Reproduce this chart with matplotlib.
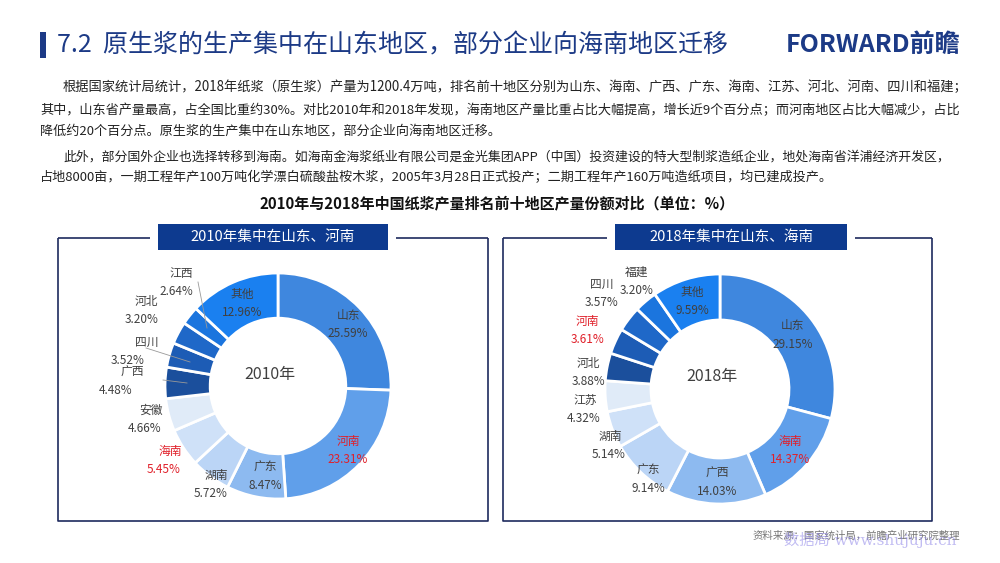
"""Pulp output share donuts, 2010 vs 2018"""

import matplotlib
matplotlib.use("Agg")
import matplotlib.pyplot as plt
from matplotlib.patches import Rectangle

plt.rcParams["font.family"] = ["Noto Sans CJK SC", "DejaVu Sans"]

# data
regions_2010 = ["山东", "河南", "广东", "湖南", "海南", "安徽", "广西", "四川", "河北", "江西", "其他"]
shares_2010 = [25.59, 23.31, 8.47, 5.72, 5.45, 4.66, 4.48, 3.52, 3.20, 2.64, 12.96]
regions_2018 = ["山东", "海南", "广西", "广东", "湖南", "江苏", "河北", "河南", "四川", "福建", "其他"]
shares_2018 = [29.15, 14.37, 14.03, 9.14, 5.14, 4.32, 3.88, 3.61, 3.57, 3.20, 9.59]
red_2010 = ["河南", "海南"]
red_2018 = ["海南", "河南"]

colors = ["#3f87de", "#609fea", "#8dbaf0", "#bbd5f6", "#cfe1f8", "#e0ebf8",
          "#1b4f9c", "#1d5cb5", "#1f68c8", "#1b75de", "#1a80f0"]

# label positions in pixels (x, y of the name line; ha)
pos_2010 = [(348, 315, "center"), (348, 441, "center"), (265, 467, "center"),
            (216, 475, "center"), (170, 451, "center"), (151, 410, "center"),
            (132, 372, "center"), (147, 342, "center"), (146, 301, "center"),
            (181, 273, "center"), (242, 294, "center")]
pos_2018 = [(793, 326, "center"), (790, 441, "center"), (717, 473, "center"),
            (648, 470, "center"), (610, 436, "center"), (585, 400, "center"),
            (588, 363, "center"), (587, 321, "center"), (602, 284, "center"),
            (637, 272, "center"), (692, 292, "center")]
# value line x offsets where the value sits off the name
val_dx_2010 = [0, 0, 0, -5, -6, -6, -16, -19, -4, -5, 0]
val_dx_2018 = [0, 0, 0, 0, -1, -1, 0, 1, 0, 0, 0]

leaders_2010 = [((198, 282), (207, 328)), ((146, 348), (190, 362)), ((163, 380), (187, 383))]

H = 563
NAVY = "#1c3a86"
TXT = "#404040"
RED = "#e0202a"


def Y(py):
    return H - py


fig = plt.figure(figsize=(10, 5.63), dpi=100)
ax = fig.add_axes([0, 0, 1, 1])

# header
ax.add_patch(Rectangle((40, Y(58)), 6, 26, color=NAVY, lw=0))
ax.text(57, Y(45), "7.2  原生浆的生产集中在山东地区，部分企业向海南地区迁移",
        fontsize=18, color=NAVY, va="center", ha="left")
ax.text(960, Y(45), "FORWARD前瞻", fontsize=18, color=NAVY, fontweight="bold",
        va="center", ha="right")

# body text (x, y, size, text)
para = [
    (63, 87, 9.55, "根据国家统计局统计，2018年纸浆（原生浆）产量为1200.4万吨，排名前十地区分别为山东、海南、广西、广东、海南、江苏、河北、河南、四川和福建；"),
    (40, 110, 9.48, "其中，山东省产量最高，占全国比重约30%。对比2010年和2018年发现，海南地区产量比重占比大幅提高，增长近9个百分点；而河南地区占比大幅减少，占比"),
    (40, 131, 9.45, "降低约20个百分点。原生浆的生产集中在山东地区，部分企业向海南地区迁移。"),
    (63, 157, 9.32, "此外，部分国外企业也选择转移到海南。如海南金海浆纸业有限公司是金光集团APP（中国）投资建设的特大型制浆造纸企业，地处海南省洋浦经济开发区，"),
    (40, 178, 9.45, "占地8000亩，一期工程年产100万吨化学漂白硫酸盐桉木浆，2005年3月28日正式投产；二期工程年产160万吨造纸项目，均已建成投产。"),
]
for x0, y0, fs, s in para:
    ax.text(x0, Y(y0), s, fontsize=fs, color="#222222", va="center", ha="left")

ax.text(497, Y(203), "2010年与2018年中国纸浆产量排名前十地区产量份额对比（单位：%）",
        fontsize=10.8, fontweight="bold", color="#111111", va="center", ha="center")

# panels
def panel(x0, x1, gx0, gx1, title):
    top, bot = Y(238), Y(521)
    kw = dict(color="#1e2a5e", lw=1.2, solid_capstyle="butt")
    ax.plot([x0, x0, x1, x1], [top, bot, bot, top], **kw)
    ax.plot([x0, gx0 - 8], [top, top], **kw)
    ax.plot([gx1 + 8, x1], [top, top], **kw)
    ax.add_patch(Rectangle((gx0, Y(250)), gx1 - gx0, 26, color="#0d3a8f", lw=0))
    ax.text((gx0 + gx1) / 2, Y(237), title, fontsize=10.5, color="white",
            va="center", ha="center")


panel(58, 488, 158, 388, "2010年集中在山东、河南")
panel(503, 932, 615, 847, "2018年集中在山东、海南")


def donut(cx, cy, r, vals, names, pos, vdx, reds, year):
    ax.pie(vals, colors=colors, startangle=90, counterclock=False,
           center=(cx, Y(cy)), radius=r, frame=True,
           wedgeprops=dict(width=r * 0.4, edgecolor="white", linewidth=2))
    for name, v, (px, py, ha), dx in zip(names, vals, pos, vdx):
        c = RED if name in reds else TXT
        ax.text(px, Y(py), name, fontsize=8.5, color=c, ha=ha, va="center")
        ax.text(px + dx, Y(py + 18.5), f"{v:.2f}%", fontsize=8.5, color=c,
                ha=ha, va="center")
    ax.text(cx - 8, Y(cy - 12), year, fontsize=11.5, color=TXT,
            ha="center", va="center")


donut(278, 386, 113, shares_2010, regions_2010, pos_2010, val_dx_2010, red_2010, "2010年")
donut(720, 389, 115, shares_2018, regions_2018, pos_2018, val_dx_2018, red_2018, "2018年")

for (x0, y0), (x1, y1) in leaders_2010:
    ax.plot([x0, x1], [Y(y0), Y(y1)], color="#999999", lw=0.6)

# footer
ax.text(960, Y(536), "资料来源：国家统计局，前瞻产业研究院整理", fontsize=7.5,
        color="#777777", ha="right", va="center")
ax.text(957, Y(540), "数据局 www.shujuju.cn", fontsize=11, color="#8f86e8",
        alpha=0.55, ha="right", va="center", family=["DejaVu Serif", "Noto Sans CJK SC"])

ax.set_xlim(0, 1000)
ax.set_ylim(0, H)
ax.set_aspect("auto")
ax.axis("off")

fig.savefig("out.png", dpi=100)
plt.close(fig)
